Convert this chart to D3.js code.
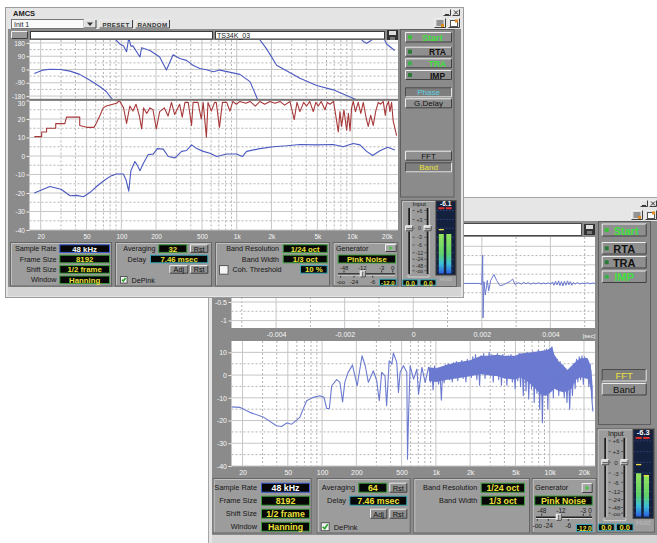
<!DOCTYPE html>
<html>
<head>
<meta charset="utf-8">
<script src="https://cdn.jsdelivr.net/npm/d3@7"></script>
<style>
html, body { margin: 0; padding: 0; background: #fff; }
svg { display: block; font-family: "Liberation Sans", Arial, sans-serif; }
</style>
</head>
<body>
<svg id="c" width="657" height="543"></svg>
<script>
// ---- chart values ----
var freqMajor = [20, 50, 100, 200, 500, 1000, 2000, 5000, 10000, 20000];
var freqLabels = ["20", "50", "100", "200", "500", "1k", "2k", "5k", "10k", "20k"];
var freqMinor = [30, 40, 60, 70, 80, 90, 300, 400, 600, 700, 800, 900, 3000, 4000, 6000, 7000, 8000, 9000];
var phaseTicks = [180, 90, 0, -90, -180];
var phaseMinor = [135, 45, -45, -135];
var magTicks1 = [30, 20, 10, 0, -10, -20, -30, -40];
var magMinor1 = [25, 15, 5, -5, -15, -25, -35];
var magTicks2 = [10, 0, -10, -20, -30, -40];
var magMinor2 = [5, -5, -15, -25, -35];
var impTicks = [1, 0.5, 0, -0.5, -1];
var impMinor = [0.75, 0.25, -0.25, -0.75];
var timeTicks = [-0.004, -0.002, 0, 0.002, 0.004];
var timeMinor = [-0.005, -0.003, -0.001, 0.001, 0.003, 0.005];

// window 1: phase (deg), magnitude (dB) and coherence trace
var phase1 = [[17.6,-27],[21,-4],[24,2],[29.4,0],[36,-11],[43.6,-33],[53,-71],[65,-115],[74,-149],[86,-215],
  [86,215],[97,173],[104.6,160],[111,120],[116,215],[121,158],[126,160],[145,85],[150,148],[177,129],[215,85],[246,-4],[281,100],[320,75],[367,62],[418,29],[479,7],[546,-2],[626,-15],[716,-4],[1066,-33],[1304,-82],[1540,-215],
  [1540,215],[1816,140],[2219,29],[3532,-60],[4930,-109],[6870,-138],[11700,-215],
  [11700,215],[12500,190],[13370,178],[14500,195],[15500,215],[18800,215],[19900,173],[23400,129]];
var mag1 = [[17.6,-20],[24,-16.5],[30,-18],[36,-21.5],[41,-21.3],[47,-22],[54,-19.5],[61,-16.5],[70,-13.5],[80,-11],[91,-9.7],[104,-9.7],[110,-13],[116,-19],[121,-8],[131,-3],[137,-4.8],[145,-8],[155,-4],[171,0.8],[189,1],[205,4],[231,3.7],[255,-0.3],[292,-1],[333,2.5],[368,3],[407,6],[450,4],[513,2.5],[586,1.5],[670,-0.3],[818,1.1],[998,1.1],[1117,-0.3],[1219,2.5],[1589,4],[2075,5],[2711,5.5],[3532,6.2],[4931,6],[6874,6.2],[8383,5],[10234,6.8],[11700,6],[13370,2.5],[15070,0.3],[17420,2.8],[20320,4.7],[23500,3.3]];
var coh1 = [[17.6,10.5],[20.4,10.5],[20.4,13],[22.5,13],[22.5,15],[27,15],[27,17.5],[32.4,17.5],[33.5,21],[43.6,21],[43.6,16.5],[50,15.5],[58,15.5],[61,18],[65,21.6],[69.6,26],[74,27],[91,28.5],[96,30],[104.6,26],[111,17.6],[118.5,27],[126,24.3],[134,28],[143.5,21.6],[150,14.6],[156,26],[166,23],[177,26],[188,25],[201,14.6],[215,24],[236,26],[254,21.6],[272,29],[290,22.4],[320,28],[337,21],[356,29],[380,29],[406,16.5],[419,29],[462,29],[493,20],[512,29],[546,10.2],[564,29],[603,24.3],[643,29],[665,29],[709,15.5],[752,29],[819,29],[873,24.3],[926,29.5],[993,28],[1066,29.5],[1200,28.5],[1304,29.5],[1450,27],[1589,29.5],[1750,28],[1941,29.5],[2150,28.5],[2371,29.5],[2600,27.5],[2893,29.5],[3152,19.7],[3328,29],[3532,24],[3800,29],[4036,27],[4300,29.5],[4606,24],[4850,29],[5092,27],[5400,29.5],[5820,25],[6100,29],[6428,28],[6900,29.5],[7300,20],[7586,13],[7850,24],[8112,16],[8500,25],[8972,14],[9300,23],[9600,13.5],[9910,26],[10234,29.5],[10700,24],[11300,29],[11900,23],[12500,29],[13300,20],[13800,16],[14500,22],[15240,16.5],[16000,24],[16860,29],[17700,28],[18620,29.5],[19400,22],[19900,27],[20700,29.5],[21280,24],[22000,29],[22700,19],[24320,11]];

// window 2: impulse response (sec, amplitude) and FFT magnitude (dB)
var impulse2 = [[-0.0053,0],[0.00192,0],[0.001996,-0.03],[0.002025,0.76],[0.002034,-0.93],[0.002063,0.05],[0.002101,-0.31],[0.002141,-0.05],[0.002159,0.08],[0.0022,-0.2],[0.002258,0.08],[0.002354,0.24],[0.002433,0.08],[0.002529,-0.06],[0.002625,-0.04],[0.002724,0.01],[0.002821,0.05],[0.002899,0.12],[0.002966,-0.03],[0.003063,0.02],[0.003162,-0.02],[0.00322,0.03],[0.003287,-0.01],[0.00335,0.02],[0.003433,-0.02],[0.0035,0.015],[0.003579,-0.01],[0.00365,0.02],[0.003724,-0.015],[0.0038,0.01],[0.00387,-0.01],[0.00394,0.015],[0.004016,-0.02],[0.00406,0.04],[0.004103,-0.05],[0.00415,0.06],[0.004191,-0.04],[0.00424,0.07],[0.004278,-0.06],[0.00432,0.05],[0.004366,-0.07],[0.00441,0.06],[0.004453,-0.05],[0.0045,0.07],[0.00454,-0.04],[0.00458,0.05],[0.004628,-0.05],[0.00467,0.03],[0.004716,-0.02],[0.00479,0.02],[0.004861,-0.015],[0.00494,0.01],[0.005007,-0.015],[0.00508,0.02],[0.005153,-0.01],[0.00523,0.01],[0.0053,0]];
var fft2 = [[16,-14],[18.9,-14.2],[23.2,-16.4],[30.3,-18.4],[39.8,-22.3],[44.1,-22.6],[48.9,-21.1],[54.2,-21.6],[63.7,-18.6],[73.1,-11.3],[83.8,-9.8],[95.8,-9.1],[103.9,-9.8],[109.8,-14.7],[115.8,-14.7],[121.5,-4.7],[134.5,-2],[143.4,-3.2],[151.4,-11.8],[158.3,-3.2],[169.2,1.2],[185,4.4],[203.5,-4.7],[224.4,8.5],[239.4,4.1],[255,-3.2],[282,1.9],[302,-2.5],[318,-11.3],[334,1.2],[357,-0.3],[369,-13.5],[389,6.3],[410,4.8],[423,9.7],[453,5.6],[469,-7.6],[485,1.2],[519,4.1],[555,1.2],[563,-37],[575,-18],[594,4.1],[637,-1.8],[681,2.6],[704,-8.4],[753,3.4],[805,-3.2],[862,3.4],
  [870,3.4],[895,-3],[920,2.5],[945,-6.5],[972,4],[1000,-1.5],[1028,2],[1056,-4],[1086,1.5],[1117,-11],[1148,2.5],[1180,-3.5],[1213,4.5],[1247,-1],[1282,5],[1318,-2],[1355,4],[1393,-3],[1432,5.5],[1472,-0.5],[1513,6],[1556,-2.5],[1600,5],[1644,0.5],[1690,6.5],[1738,-1.5],[1786,5.5],[1836,-3],[1888,7],[1941,0],[1995,6],[2051,-1],[2108,8],[2167,1],[2228,9],[2290,-2],[2355,7.5],[2421,-4.5],[2488,8.5],[2558,0.5],[2630,9.5],[2703,-1.5],[2779,8],[2857,1.5],[2937,10],[3019,-0.5],[3104,9],[3191,-3],[3280,8.5],[3372,1],[3466,9.5],[3563,-2],[3663,8],[3766,-4.5],[3871,9],[3980,-0.5],[4091,7.5],[4206,-4.5],[4323,8.5],[4444,-1],[4569,9],[4697,-3],[4828,7.5],[4964,-6],[5103,8.5],[5245,-2.5],[5392,9.5],[5543,-5],[5699,8],[5858,-9],[6022,9],[6191,-7],[6364,10],[6542,-10.5],[6726,8.5],[6914,-6],[7108,10.5],[7307,-12],[7511,9],[7722,-8],[7938,11],[8160,-15],[8389,9.5],[8623,-21],[8865,10.5],[9113,-9],[9368,11.5],[9631,-15],[9900,10],[10177,-7],[10462,12.5],[10755,-10],[11057,8],[11366,-4],[11684,7],[12012,-9],[12348,6],[12694,-6],[13049,4.5],[13414,-10],[13790,3],[14176,-12],[14573,2],[14981,-15],[15401,3],[15832,-9],[16275,5],[16731,-6],[17199,7],[17681,-3],[18176,8],[18685,-2],[19208,8.5],[19746,-4],[20299,8],[20867,-1.5],[21451,7],[22052,-5],[22670,5],[23304,-9],[23957,-16]];
// solid body of the dense FFT band above 870 Hz: upper and lower edge (dB)
var fftHi = [[870,3.5],[1000,3],[1250,4.5],[1500,5.5],[2000,6.5],[2500,8.5],[2800,8.5],[3500,9],[4000,8.5],[5000,8.5],[5500,9.5],[7000,10],[8000,10.5],[9500,11],[10500,12.4],[11000,9],[12000,6],[13300,4],[14300,2.2],[15500,4],[17000,6],[18600,7.4],[21400,7.5],[22200,6],[23300,2],[23900,-6]];
var fftLo = [[870,-2.5],[1000,-3],[1250,-2],[1500,-1.5],[2000,-0.5],[2500,0.5],[2800,0],[3500,-0.5],[4000,-1.5],[5000,-2],[5500,-1],[6500,-3],[7500,-6],[8500,-9],[9500,-9],[10500,-7],[11000,-6],[12000,-7],[13300,-7.5],[14300,-7],[15500,-6],[17000,-2],[18600,-1],[21400,-1.5],[22200,-3],[23300,-8],[23900,-12]];

// settings shown in the lower panels
var settingNames = ["Sample Rate", "Frame Size", "Shift Size", "Window"];
var settingValues = ["48 kHz", "8192", "1/2 frame", "Hanning"];
var bandNames = ["Band Resolution", "Band Width"];
var bandValues = ["1/24 oct", "1/3 oct"];
var genTicksTop = ["-48", "-12", "-3", "0"];
var genTicksBottom = ["-oo", "-24", "-6"];
var faderTicks = ["+6", "+3", "0", "-3", "-6", "-12", "-24", "-48", "-oo"];

var svg = d3.select("#c");
var defs = svg.append("defs");
var FONT = "Liberation Sans, Arial, sans-serif";
var GREEN = "#3ee03e";

var grad = defs.append("linearGradient").attr("id", "barGrad")
	.attr("x1", 0).attr("y1", 0).attr("x2", 0).attr("y2", 1);
grad.append("stop").attr("offset", "0%").attr("stop-color", "#94e35c");
grad.append("stop").attr("offset", "50%").attr("stop-color", "#5fd16a");
grad.append("stop").attr("offset", "75%").attr("stop-color", "#3cbfd8");
grad.append("stop").attr("offset", "100%").attr("stop-color", "#2a5fe0");

//UTILITY FUNCTIONS

function rect(g, x, y, w, h, fill, stroke) {
	return g.append("rect").attr("x", x).attr("y", y).attr("width", w).attr("height", h)
		.attr("fill", fill).attr("stroke", stroke || "none");
}

function label(g, x, y, s, size, fill, anchor, weight) {
	return g.append("text").attr("x", x).attr("y", y)
		.attr("font-size", size).attr("fill", fill || "#151515")
		.attr("text-anchor", anchor || "start").attr("font-weight", weight || "normal")
		.attr("dominant-baseline", "central").text(s);
}

// raised or sunken 3d box, windows style
function bevel(g, x, y, w, h, fill, up) {
	rect(g, x, y, w, h, fill);
	var a = up ? "#eeeeee" : "#4c4c4c", b = up ? "#404040" : "#e4e4e4";
	g.append("path").attr("d", "M" + (x + .5) + "," + (y + h - .5) + "V" + (y + .5) + "H" + (x + w - .5))
		.attr("fill", "none").attr("stroke", a);
	g.append("path").attr("d", "M" + (x + .5) + "," + (y + h - .5) + "H" + (x + w - .5) + "V" + (y + .5))
		.attr("fill", "none").attr("stroke", b);
}

function lcd(g, x, y, w, h, s, border, size, color) {
	rect(g, x + .5, y + .5, w - 1, h - 1, "#060606", border);
	label(g, x + w / 2, y + h / 2 + .5, s, size, color || "#ece23a", "middle", "bold");
}

function button(g, x, y, w, h, s, o) {
	o = o || {};
	bevel(g, x, y, w, h, o.sunken ? "#7e7e7e" : "#8f8f8f", !o.sunken);
	if (o.led) rect(g, x + 3, y + h / 2 - 2, 4, 4, o.led);
	label(g, x + w / 2 + (o.dx || 0), y + h / 2 + .5, s, o.size || 8, o.color || "#111", "middle", o.bold ? "bold" : "normal");
}

function panelBox(g, x0, x1, y0, y1) {
	rect(g, x0 + .5, y0 + .5, x1 - x0 - 1, y1 - y0 - 1, "#9c9c9c", "#666");
	g.append("path").attr("d", "M" + (x0 + 1.5) + "," + (y1 - 1.5) + "V" + (y0 + 1.5) + "H" + (x1 - 1.5))
		.attr("fill", "none").attr("stroke", "#c2c2c2");
}

function checkbox(g, x, y, s, checked) {
	rect(g, x + .5, y + .5, s - 1, s - 1, "#f4f4f4", "#555");
	if (checked) {
		g.append("path").attr("d", "M" + (x + 2) + "," + (y + s / 2) + "L" + (x + s / 2 - .5) + "," + (y + s - 2.5) + "L" + (x + s - 2) + "," + (y + 2))
			.attr("fill", "none").attr("stroke", "#2aa02a").attr("stroke-width", 1.6);
	}
}

function saveIcon(g, x, y) {
	rect(g, x, y, 11, 11, "#333");
	rect(g, x + 2, y + 1, 7, 4, "#ddd");
	rect(g, x + 3, y + 7, 5, 3, "#777");
}

function winButtons(g, x, y) {
	bevel(g, x, y, 8, 7, "#e4e4e4", true);
	bevel(g, x + 9, y, 8, 7, "#e4e4e4", true);
	g.append("path").attr("d", "M" + (x + 2) + "," + (y + 5.5) + "H" + (x + 6)).attr("stroke", "#333");
	g.append("path").attr("d", "M" + (x + 11) + "," + (y + 1.5) + "L" + (x + 15) + "," + (y + 5.5) + "M" + (x + 15) + "," + (y + 1.5) + "L" + (x + 11) + "," + (y + 5.5))
		.attr("stroke", "#333");
}

function toolIcons(g, x, y) {
	bevel(g, x, y, 12, 10, "#e2e2e2", true);
	bevel(g, x + 14, y, 12, 10, "#e2e2e2", true);
	g.append("path").attr("d", "M" + (x + 2.5) + "," + (y + 3) + "H" + (x + 9.5) + "M" + (x + 2.5) + "," + (y + 5) + "H" + (x + 9.5) + "M" + (x + 2.5) + "," + (y + 7) + "H" + (x + 9.5))
		.attr("stroke", "#444");
	rect(g, x + 7, y + 6, 3, 3, "#e08a20");
	rect(g, x + 16.5, y + 2.5, 7, 6, "#fff", "#555");
	rect(g, x + 21, y + 1.5, 3, 3, "#e08a20");
}

function drawGrid(g, xs, ys, xMaj, xMin, yMaj, yMin) {
	var x0 = xs.range()[0], x1 = xs.range()[1], yb = ys.range()[0], yt = ys.range()[1];
	rect(g, x0, yt, x1 - x0, yb - yt, "#ffffff");
	xMin.forEach(function(v) {
		g.append("line").attr("x1", xs(v)).attr("x2", xs(v)).attr("y1", yt).attr("y2", yb)
			.attr("stroke", "#b4b4b4").attr("stroke-dasharray", "2,2");
	});
	yMin.forEach(function(v) {
		g.append("line").attr("y1", ys(v)).attr("y2", ys(v)).attr("x1", x0).attr("x2", x1)
			.attr("stroke", "#b4b4b4").attr("stroke-dasharray", "2,2");
	});
	xMaj.forEach(function(v) {
		g.append("line").attr("x1", xs(v)).attr("x2", xs(v)).attr("y1", yt).attr("y2", yb).attr("stroke", "#c6c6c6");
	});
	yMaj.forEach(function(v) {
		g.append("line").attr("y1", ys(v)).attr("y2", ys(v)).attr("x1", x0).attr("x2", x1).attr("stroke", "#c6c6c6");
	});
}

function clipFor(id, xs, ys) {
	var x0 = xs.range()[0], x1 = xs.range()[1], yb = ys.range()[0], yt = ys.range()[1];
	defs.append("clipPath").attr("id", id).append("rect")
		.attr("x", x0).attr("y", yt).attr("width", x1 - x0).attr("height", yb - yt);
	return "url(#" + id + ")";
}

function styleAxis(ax, size) {
	ax.attr("font-size", size).attr("font-family", FONT);
	ax.select(".domain").remove();
	ax.selectAll(".tick line").attr("stroke", "#ececec");
	ax.selectAll(".tick text").attr("fill", "#f6f6f6");
}

function leftAxis(g, ys, x, ticks, size) {
	var ax = g.append("g").attr("transform", "translate(" + x + ",0)")
		.call(d3.axisLeft(ys).tickValues(ticks).tickSize(3).tickPadding(1.5).tickFormat(function(d) { return d; }));
	styleAxis(ax, size);
	return ax;
}

function freqAxis(g, xs, y, size) {
	var ax = g.append("g").attr("transform", "translate(0," + y + ")")
		.call(d3.axisBottom(xs).tickValues(freqMajor).tickSize(0).tickPadding(4)
			.tickFormat(function(d, i) { return freqLabels[i]; }));
	styleAxis(ax, size);
	return ax;
}

function trace(g, data, xs, ys, color, width, clip) {
	g.append("path").datum(data).attr("clip-path", clip)
		.attr("fill", "none").attr("stroke", color).attr("stroke-width", width).attr("stroke-linejoin", "round")
		.attr("d", d3.line().x(function(d) { return xs(d[0]); }).y(function(d) { return ys(d[1]); }));
}

// lower settings strip, L holds the panel geometry of one window
function settings(g, L) {
	var rowY = function(i) { return L.r0 + i * L.pitch; };
	var bh = L.bh;
	panelBox(g, L.p1[0], L.p1[1], L.top, L.bot);
	settingNames.forEach(function(n, i) {
		label(g, L.lblR, rowY(i) + bh / 2, n, L.lfs, "#151515", "end");
		if (i === 0) lcd(g, L.box1[0], rowY(i), L.box1[1] - L.box1[0], bh, settingValues[i], "#3a5ad0", L.vfs, "#ffffff");
		else lcd(g, L.box1[0], rowY(i), L.box1[1] - L.box1[0], bh, settingValues[i], "#3c9c3c", L.vfs);
	});

	panelBox(g, L.p2[0], L.p2[1], L.top, L.bot);
	label(g, L.avgR, rowY(0) + bh / 2, "Averaging", L.lfs, "#151515", "end");
	lcd(g, L.avgBox[0], rowY(0), L.avgBox[1] - L.avgBox[0], bh, L.avg, "#3c9c3c", L.vfs);
	button(g, L.rst[0], rowY(0), L.rst[1] - L.rst[0], bh, "Rst", { size: L.lfs });
	label(g, L.dlyR, rowY(1) + bh / 2, "Delay", L.lfs, "#151515", "end");
	lcd(g, L.dlyBox[0], rowY(1), L.dlyBox[1] - L.dlyBox[0], bh, "7.46 msec", "#3aa8b8", L.vfs);
	button(g, L.adj[0], rowY(2), L.adj[1] - L.adj[0], bh, "Adj", { size: L.lfs });
	button(g, L.rst[0], rowY(2), L.rst[1] - L.rst[0], bh, "Rst", { size: L.lfs });
	checkbox(g, L.chk, rowY(3) + .5, bh - 1, true);
	label(g, L.chk + bh + 3, rowY(3) + bh / 2 + .5, "DePink", L.lfs);

	panelBox(g, L.p3[0], L.p3[1], L.top, L.bot);
	bandNames.forEach(function(n, i) {
		label(g, L.bandR, rowY(i) + bh / 2, n, L.lfs, "#151515", "end");
		lcd(g, L.bandBox[0], rowY(i), L.bandBox[1] - L.bandBox[0], bh, bandValues[i], "#3c9c3c", L.vfs);
	});
	if (L.coh) {
		checkbox(g, L.coh.chk, rowY(2), bh + 1, false);
		label(g, L.coh.chk + bh + 5, rowY(2) + bh / 2 + .5, "Coh. Threshold", L.lfs);
		lcd(g, L.coh.box[0], rowY(2), L.coh.box[1] - L.coh.box[0], bh, "10 %", "#3aa8b8", L.vfs);
	}

	var G = L.gen;
	panelBox(g, L.p4[0], L.p4[1], L.top, L.bot);
	label(g, G.x, G.textY, "Generator", L.lfs);
	bevel(g, G.play[0], G.play[1], G.play[2], G.play[3], "#a8a8a8", true);
	var px = G.play[0], py = G.play[1], pw = G.play[2], ph = G.play[3];
	g.append("path").attr("d", "M" + (px + pw * .35) + "," + (py + ph * .25) + "L" + (px + pw * .72) + "," + (py + ph / 2) + "L" + (px + pw * .35) + "," + (py + ph * .75) + "Z")
		.attr("fill", "#4ec04e");
	lcd(g, G.pink[0], G.pink[1], G.pink[2], G.pink[3], "Pink Noise", "#3c9c3c", L.vfs);
	genTicksTop.forEach(function(t, i) {
		label(g, G.topX[i], G.topY, t, L.sfs, "#222", "middle");
		g.append("line").attr("x1", G.topX[i]).attr("x2", G.topX[i]).attr("y1", G.trackY - 3.5).attr("y2", G.trackY - 1.5).attr("stroke", "#333");
	});
	genTicksBottom.forEach(function(t, i) {
		label(g, G.botX[i], G.botY, t, L.sfs, "#222", "middle");
		g.append("line").attr("x1", G.botX[i]).attr("x2", G.botX[i]).attr("y1", G.trackY + 1.5).attr("y2", G.trackY + 3.5).attr("stroke", "#333");
	});
	g.append("line").attr("x1", G.track[0]).attr("x2", G.track[1]).attr("y1", G.trackY).attr("y2", G.trackY).attr("stroke", "#222").attr("stroke-width", 1.4);
	g.append("line").attr("x1", G.track[0]).attr("x2", G.track[1]).attr("y1", G.trackY + 1.2).attr("y2", G.trackY + 1.2).attr("stroke", "#d8d8d8");
	bevel(g, G.knob - 2.5, G.trackY - 3.5, 6, 7, "#d6d6d6", true);
	g.append("line").attr("x1", G.knob + .5).attr("x2", G.knob + .5).attr("y1", G.trackY - 2.5).attr("y2", G.trackY + 2.5).attr("stroke", "#555");
	lcd(g, G.val[0], G.val[1], G.val[2], G.val[3], "-12.0", "#3aa8b8", L.sfs);
}

// input faders + level meter, local layout scaled by sx, sy
function meter(g, px, py, sx, sy, peak, barTop, hold, fs) {
	var X = function(v) { return px + v * sx; }, Y = function(v) { return py + v * sy; };
	var pos = d3.scaleOrdinal().domain(faderTicks).range([10.5, 19.5, 28.3, 37.3, 45, 52.7, 59.3, 66, 70.7]);
	panelBox(g, px, X(56), py, Y(87));
	label(g, X(18.3), Y(4.2), "Input", fs - 1, "#151515", "middle");
	faderTicks.forEach(function(t) {
		label(g, X(18.5), Y(pos(t)), t, fs - 1.8, "#2a2a2a", "middle");
		g.append("line").attr("x1", X(11.5)).attr("x2", X(13.5)).attr("y1", Y(pos(t))).attr("y2", Y(pos(t))).attr("stroke", "#555");
		g.append("line").attr("x1", X(23.5)).attr("x2", X(25.5)).attr("y1", Y(pos(t))).attr("y2", Y(pos(t))).attr("stroke", "#555");
	});
	[8.3, 26.7].forEach(function(tx) {
		rect(g, X(tx) - 1, Y(8), 2, Y(74) - Y(8), "#1c1c1c");
		g.append("line").attr("x1", X(tx) + 1.5).attr("x2", X(tx) + 1.5).attr("y1", Y(8)).attr("y2", Y(74)).attr("stroke", "#d0d0d0");
		bevel(g, X(tx) - 4, Y(pos("0")) - 3, 8, 6, "#d8d8d8", true);
		g.append("line").attr("x1", X(tx) - 3).attr("x2", X(tx) + 3).attr("y1", Y(pos("0")) + .5).attr("y2", Y(pos("0")) + .5).attr("stroke", "#444");
	});
	g.append("path").attr("d", "M" + X(7) + "," + Y(75) + "V" + Y(77) + "H" + X(28) + "V" + Y(75)).attr("fill", "none").attr("stroke", "#d4d4d4");
	// meter
	rect(g, X(35), Y(1), X(54.5) - X(35), Y(75) - Y(1), "#14213e", "#3c3c3c");
	faderTicks.forEach(function(t) {
		g.append("line").attr("x1", X(36)).attr("x2", X(53.5)).attr("y1", Y(pos(t))).attr("y2", Y(pos(t)))
			.attr("stroke", "#2e4479").attr("stroke-dasharray", "1.5,1.5");
	});
	[[37.8, 42.8], [45.3, 50.3]].forEach(function(c, i) {
		rect(g, X(c[0]), Y(barTop[i]), X(c[1]) - X(c[0]), Y(73.5) - Y(barTop[i]), "url(#barGrad)");
		rect(g, X(c[0]) - .5, Y(7.2), X(c[1]) - X(c[0]) + 1, 2, "#e0302c");
		if (hold[i] !== null) rect(g, X(c[0]), Y(hold[i]), X(c[1]) - X(c[0]), 1.3, "#f0e040");
	});
	label(g, X(44.7), Y(3.6), peak, fs - .5, "#ffffff", "middle", "bold");
	label(g, X(44.7), Y(78.8), "Hold", fs - 1, "#bdbdbd", "middle");
	lcd(g, X(1.3), Y(79.3), X(17.3) - X(1.3), Y(85.7) - Y(79.3), "0.0", "#3aa8b8", fs - .5);
	lcd(g, X(18.6), Y(79.3), X(35.4) - X(18.6), Y(85.7) - Y(79.3), "0.0", "#3aa8b8", fs - .5);
}

// ===================== window 2 (behind) =====================
var w2 = svg.append("g");
rect(w2, 208.5, 197.5, 460, 350, "#e6e6e6", "#a4a4a4");
rect(w2, 212, 221, 450, 314, "#8b8b8b");
rect(w2, 212, 535, 450, 8, "#d6d6d6");
winButtons(w2, 640, 200);
toolIcons(w2, 631, 210);
rect(w2, 300.5, 223.5, 281, 12, "#ffffff", "#4a4a4a");
saveIcon(w2, 584, 224);

var tImp = d3.scaleLinear().domain([-0.0053, 0.0053]).range([231.5, 595]);
var yImp = d3.scaleLinear().domain([-1.2, 1.25]).range([328, 237]);
var x2 = d3.scaleLog().domain([16, 25000]).range([231.5, 595]);
var yMag2 = d3.scaleLinear().domain([-40, 15]).range([466, 341]);

drawGrid(w2, tImp, yImp, timeTicks, timeMinor, impTicks, impMinor);
trace(w2, impulse2, tImp, yImp, "#6b7ad0", 1, clipFor("cImp", tImp, yImp));
leftAxis(w2, yImp, 231.5, impTicks, 7);
var tax = w2.append("g").attr("transform", "translate(0,328)")
	.call(d3.axisBottom(tImp).tickValues(timeTicks).tickSize(0).tickPadding(4).tickFormat(function(d) { return String(d); }));
styleAxis(tax, 7);
label(w2, 589, 335.5, "[sec]", 6, "#f6f6f6", "middle");

drawGrid(w2, x2, yMag2, freqMajor, freqMinor, magTicks2, magMinor2);
var cFft = clipFor("cFft", x2, yMag2);
// band body: upper edge left to right, lower edge back
var bandOutline = fftHi.concat(fftLo.slice().reverse());
w2.append("path").datum(bandOutline).attr("clip-path", cFft).attr("fill", "#6b7ad0")
	.attr("d", d3.line().x(function(d) { return x2(d[0]); }).y(function(d) { return yMag2(d[1]); }) (bandOutline) + "Z");
trace(w2, fft2, x2, yMag2, "#6b7ad0", 1.1, cFft);
leftAxis(w2, yMag2, 231.5, magTicks2, 7);
freqAxis(w2, x2, 466, 7);

// right button column
rect(w2, 598.5, 221.5, 52, 203, "#8b8b8b", "#5e5e5e");
button(w2, 601.7, 223.5, 45, 13, "Start", { led: "#3cc03c", color: GREEN, bold: true, size: 11, dx: 2 });
button(w2, 601.7, 242, 45, 12.5, "RTA", { led: "#2c7a38", bold: true, size: 11 });
button(w2, 601.7, 256, 45, 12.5, "TRA", { led: "#2c7a38", bold: true, size: 11 });
button(w2, 601.7, 270.5, 45, 12.5, "IMP", { led: "#3cb04c", color: GREEN, bold: true, size: 11 });
button(w2, 601.7, 369, 45, 12.5, "FFT", { sunken: true, color: "#ece23a", size: 9.5 });
button(w2, 601.7, 383, 45, 12.5, "Band", { size: 9.5 });

settings(w2, {
	top: 478, bot: 533.5, r0: 482.7, pitch: 13, bh: 10, lfs: 7.4, vfs: 8.8, sfs: 6.5,
	p1: [212.7, 311.7], lblR: 257, box1: [261, 310],
	p2: [316.7, 410.7], avgR: 355, avgBox: [358.3, 387.3], avg: "64", rst: [389.3, 407.3],
	dlyR: 346, dlyBox: [349.3, 407.3], adj: [370, 387.3], chk: 320.7,
	p3: [413.3, 530], bandR: 477.3, bandBox: [480.7, 525], coh: null,
	p4: [531.7, 596.7],
	gen: { x: 535, textY: 487.5, play: [581.7, 483, 11, 10], pink: [534.3, 495.5, 58.4, 10],
		topX: [541.7, 561, 583.3, 590], topY: 510,
		botX: [537.3, 548.3, 568.3], botY: 525.5,
		track: [536, 592], trackY: 517.3, knob: 558.3, val: [576, 524, 16.7, 8] }
});
meter(w2, 596.7, 428.3, 1.04, 1.2, "-6.3", [37.5, 39], [29.7, 38.9], 8);

// ===================== window 1 (front) =====================
var w1 = svg.append("g");
rect(w1, 5.5, 7.5, 458, 290, "#e4e4e4", "#9c9c9c");
label(w1, 13, 13, "AMCS", 7.5, "#222", "start", "bold");
winButtons(w1, 443, 9);
toolIcons(w1, 434, 18);
rect(w1, 11.5, 19.5, 72, 9, "#fafafa", "#777");
label(w1, 14, 24.3, "Init 1", 7, "#222");
bevel(w1, 83.5, 19.5, 13, 9, "#e0e0e0", true);
w1.append("path").attr("d", "M87,22.5H93L90,26Z").attr("fill", "#333");
bevel(w1, 99, 19.5, 34, 9, "#e2e2e2", true);
label(w1, 116, 24.3, "PRESET", 6.2, "#333", "middle", "bold").attr("letter-spacing", .4);
bevel(w1, 135, 19.5, 35, 9, "#e2e2e2", true);
label(w1, 152.5, 24.3, "RANDOM", 6.2, "#333", "middle", "bold").attr("letter-spacing", .4);

rect(w1, 8, 29, 453, 258, "#8b8b8b");
rect(w1, 8, 287, 453, 9, "#d4d4d4");
bevel(w1, 11, 31, 17, 8, "#9a9a9a", true);
rect(w1, 30.5, 31.5, 182, 7.5, "#ffffff", "#3a3a3a");
rect(w1, 215.5, 31.5, 169, 7.5, "#ffffff", "#3a3a3a");
label(w1, 217, 35.6, "TS34K_03", 7, "#222");
saveIcon(w1, 387, 30);

var x1 = d3.scaleLog().domain([16, 25000]).range([29.5, 398]);
var yPh = d3.scaleLinear().domain([-200, 200]).range([99, 40]);
var yMag1 = d3.scaleLinear().domain([-40, 30]).range([230, 100.5]);

drawGrid(w1, x1, yPh, freqMajor, freqMinor, phaseTicks, phaseMinor);
var segs = [[]];
phase1.forEach(function(d, i) {
	if (i > 0 && Math.abs(d[1] - phase1[i - 1][1]) > 250) segs.push([]);
	segs[segs.length - 1].push(d);
});
var cPh = clipFor("cPh", x1, yPh);
segs.forEach(function(s) { trace(w1, s, x1, yPh, "#4a5ac0", 1.1, cPh); });
leftAxis(w1, yPh, 29.5, phaseTicks, 6.5);

drawGrid(w1, x1, yMag1, freqMajor, freqMinor, magTicks1, magMinor1);
var cMag = clipFor("cMag1", x1, yMag1);
trace(w1, coh1, x1, yMag1, "#a8383a", 1.1, cMag);
trace(w1, mag1, x1, yMag1, "#4a5ac0", 1.1, cMag);
var mAx = leftAxis(w1, yMag1, 29.5, magTicks1, 6.5);
mAx.selectAll(".tick").filter(function(d) { return d === 30; }).select("text").attr("dy", "0.75em");
freqAxis(w1, x1, 230, 6.5);
rect(w1, 29.5, 98.8, 368.5, 2, "#7a7a7a");

// right button column
rect(w1, 400.5, 29.5, 53.5, 167.5, "#8b8b8b", "#5e5e5e");
button(w1, 405, 32, 47, 10.5, "Start", { led: "#3cc03c", color: GREEN, bold: true, size: 9, dx: 4 });
button(w1, 405, 46.7, 47, 10, "RTA", { led: "#2c7a38", bold: true, size: 8.5, dx: 9 });
button(w1, 405, 58.3, 47, 10, "TRA", { led: "#3cb04c", color: GREEN, bold: true, size: 8.5, dx: 9 });
button(w1, 405, 70, 47, 10, "IMP", { led: "#2c7a38", bold: true, size: 8.5, dx: 9 });
button(w1, 405, 87.3, 47, 10, "Phase", { sunken: true, color: "#5ccfe0", size: 8 });
button(w1, 405, 98.3, 47, 10, "G.Delay", { size: 8 });
button(w1, 405, 150.7, 47, 10, "FFT", { size: 8 });
button(w1, 405, 162.3, 47, 10, "Band", { sunken: true, color: "#ece23a", size: 8 });

settings(w1, {
	top: 242, bot: 286.5, r0: 244.3, pitch: 10.4, bh: 8.6, lfs: 7.2, vfs: 7.8, sfs: 6,
	p1: [10, 112], lblR: 56.5, box1: [59.3, 110],
	p2: [115, 212], avgR: 155.5, avgBox: [158.3, 187.3], avg: "32", rst: [190, 208.3],
	dlyR: 146, dlyBox: [150, 208.3], adj: [169.3, 188.3], chk: 120,
	p3: [215, 330], bandR: 279, bandBox: [282.7, 327.7],
	coh: { chk: 219, box: [300, 327.7] },
	p4: [332.7, 398.3],
	gen: { x: 336, textY: 248.5, play: [385, 244, 11.7, 8], pink: [337.7, 254.5, 58.3, 9],
		topX: [344, 362.3, 381.7, 392.7], topY: 267.7,
		botX: [340.7, 354, 372.7], botY: 281.7,
		track: [338, 395], trackY: 274, knob: 362.3, val: [379, 278.7, 17.7, 7] }
});
meter(w1, 401, 200, 1, 1, "-6.1", [34, 34], [29, null], 7);
</script>
</body>
</html>
